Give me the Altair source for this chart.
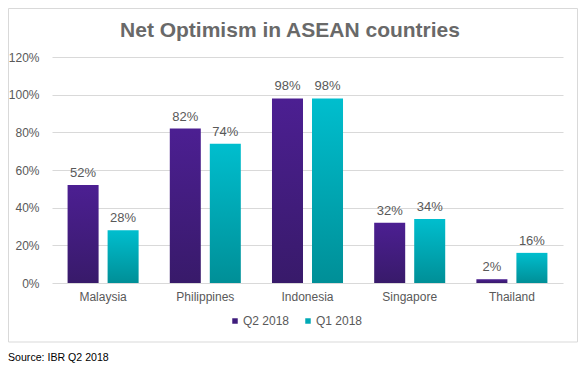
import altair as alt
import pandas as pd

countries = ["Malaysia", "Philippines", "Indonesia", "Singapore", "Thailand"]
series = ["Q2 2018", "Q1 2018"]
q2_2018 = [52, 82, 98, 32, 2]
q1_2018 = [28, 74, 98, 34, 16]
y_ticks = [0, 20, 40, 60, 80, 100, 120]
title_text = "Net Optimism in ASEAN countries"
source_text = "Source: IBR Q2 2018"

rows = []
for c, a, b in zip(countries, q2_2018, q1_2018):
    rows.append({"country": c, "series": series[0], "value": a, "label": f"{a}%"})
    rows.append({"country": c, "series": series[1], "value": b, "label": f"{b}%"})
df = pd.DataFrame(rows)

FONT = "Liberation Sans"
GRAY = "#595959"

purple = alt.Gradient(
    gradient="linear",
    stops=[alt.GradientStop(color="#4c1f92", offset=0), alt.GradientStop(color="#381a6a", offset=1)],
    x1=0, x2=0, y1=0, y2=1,
)
teal = alt.Gradient(
    gradient="linear",
    stops=[alt.GradientStop(color="#00bece", offset=0), alt.GradientStop(color="#008f97", offset=1)],
    x1=0, x2=0, y1=0, y2=1,
)

base = alt.Chart(df).encode(
    x=alt.X(
        "country:N",
        sort=countries,
        scale=alt.Scale(range=[9, 520], paddingInner=0.305, paddingOuter=0.1525),
        axis=alt.Axis(title=None, labelAngle=0, ticks=False, domain=False, grid=False,
                      labelFontSize=12, labelColor=GRAY, labelFont=FONT, labelPadding=8),
    ),
    xOffset=alt.XOffset("series:N", scale=alt.Scale(domain=series, paddingInner=0.225, paddingOuter=0)),
    y=alt.Y(
        "value:Q",
        scale=alt.Scale(domain=[0, 120]),
        axis=alt.Axis(title=None, values=y_ticks, labelExpr="datum.value + '%'", ticks=False,
                      domain=False, gridColor="#d9d9d9", labelFontSize=12, labelColor=GRAY,
                      labelFont=FONT, labelPadding=4),
    ),
)

bars_q2 = base.transform_filter(alt.datum.series == series[0]).mark_bar(color=purple)
bars_q1 = base.transform_filter(alt.datum.series == series[1]).mark_bar(color=teal)

legend_layer = base.mark_bar(opacity=0).encode(
    color=alt.Color(
        "series:N",
        scale=alt.Scale(domain=series, range=["#3f1c7c", "#00a9b5"]),
        legend=alt.Legend(title=None, orient="none", legendX=186, legendY=258, direction="horizontal",
                          symbolType="square", symbolSize=30, symbolOpacity=1, symbolStrokeWidth=0,
                          labelFontSize=12, labelColor=GRAY, labelFont=FONT, labelOffset=2,
                          columnPadding=12, padding=0),
    )
)

labels = base.mark_text(dy=-8, baseline="alphabetic", fontSize=13, color=GRAY, font=FONT).encode(
    text="label:N"
)

one = pd.DataFrame({"t": [source_text], "title": [title_text]})
frame = alt.Chart(one).mark_rect(filled=False, stroke="#d9d9d9", strokeWidth=1).encode(
    x=alt.value(-34.5), x2=alt.value(534.5), y=alt.value(-48.5), y2=alt.value(285)
)
title = alt.Chart(one).mark_text(align="center", baseline="alphabetic", fontSize=21, fontWeight="bold",
                                 color="#696969", font=FONT).encode(
    x=alt.value(247), y=alt.value(-20.5), text="title:N"
)
source = alt.Chart(one).mark_text(align="left", baseline="alphabetic", fontSize=10.6, color="#000000",
                                  font=FONT).encode(
    x=alt.value(-35), y=alt.value(304), text="t:N"
)

chart = alt.layer(frame, bars_q2, bars_q1, legend_layer, labels, title, source).properties(
    width=522,
    height=226,
    autosize=alt.AutoSizeParams(type="none"),
    padding={"left": 35, "top": 49, "right": 13, "bottom": 82},
).configure_view(stroke=None)

chart.save("out.html", embed_options={"renderer": "svg", "actions": False})
